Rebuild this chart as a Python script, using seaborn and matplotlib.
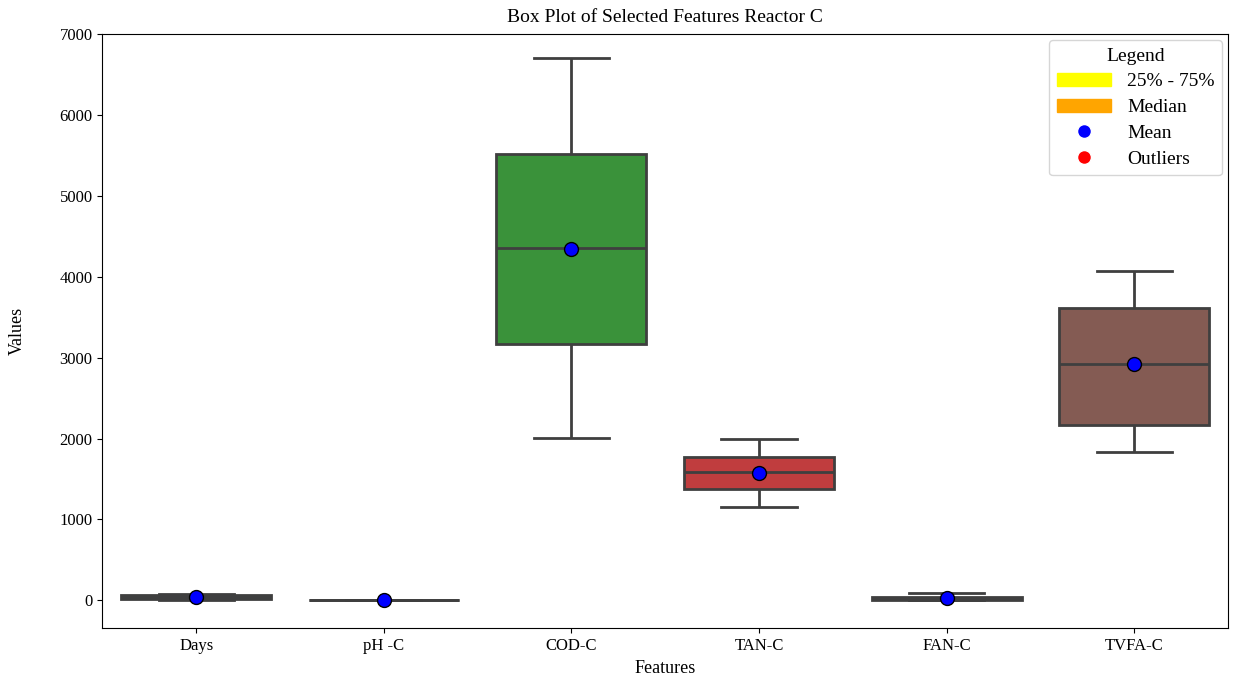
import matplotlib
matplotlib.use("Agg")
import matplotlib.pyplot as plt
import seaborn as sns
import pandas as pd
from matplotlib.patches import Patch
from matplotlib.lines import Line2D

plt.rcParams["font.family"] = ["Liberation Serif", "DejaVu Serif"]

# sample values per feature (min, q1, median, q3, max)
features = ["Days", "pH -C", "COD-C", "TAN-C", "FAN-C", "TVFA-C"]
days = [1, 21, 42, 63, 84]
ph_c = [6.8, 7.1, 7.3, 7.5, 7.8]
cod_c = [2003, 3166, 4353, 5516, 6703]
tan_c = [1150, 1373, 1585, 1768, 2000]
fan_c = [3, 8, 22, 45, 90]
tvfa_c = [1830, 2164, 2919, 3611, 4069]

df = pd.DataFrame({
    "Days": days,
    "pH -C": ph_c,
    "COD-C": cod_c,
    "TAN-C": tan_c,
    "FAN-C": fan_c,
    "TVFA-C": tvfa_c,
})
long_df = df.melt(var_name="Features", value_name="Values")

fig, ax = plt.subplots(figsize=(12.33, 6.8), dpi=100)
sns.boxplot(data=long_df, x="Features", y="Values", hue="Features",
            order=features, palette="tab10", saturation=0.75,
            linecolor="#3f3f3f", linewidth=2, width=0.8, legend=False,
            showmeans=True,
            meanprops=dict(marker="o", markerfacecolor="blue",
                           markeredgecolor="black", markersize=10),
            flierprops=dict(marker="o", markerfacecolor="red",
                            markeredgecolor="red"),
            ax=ax)

ax.set_ylim(-345, 7000)
ax.set_title("Box Plot of Selected Features Reactor C", fontsize=14, pad=9)
ax.set_xlabel("Features", fontsize=13)
ax.set_ylabel("Values", fontsize=13, labelpad=24)
ax.tick_params(labelsize=12)

handles = [
    Patch(color="yellow", label="25% - 75%"),
    Patch(color="orange", label="Median"),
    Line2D([0], [0], marker="o", color="w", markerfacecolor="blue",
           markersize=10, label="Mean"),
    Line2D([0], [0], marker="o", color="w", markerfacecolor="red",
           markersize=10, label="Outliers"),
]
ax.legend(handles=handles, title="Legend", loc="upper right",
          fontsize=14, title_fontsize=14, handlelength=2.8,
          labelspacing=0.42, borderaxespad=0.3)

plt.subplots_adjust(left=0.083, right=0.996, top=0.95, bottom=0.076)
plt.savefig("out.png")
